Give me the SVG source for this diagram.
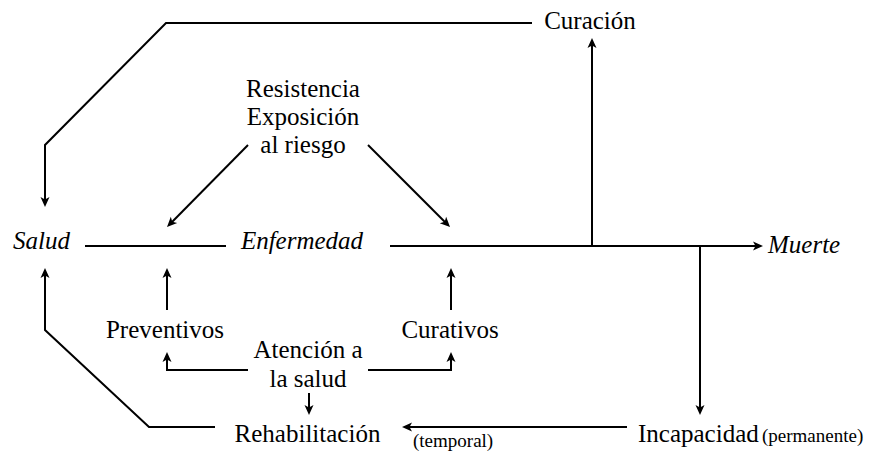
<svg xmlns="http://www.w3.org/2000/svg" width="869" height="453" viewBox="0 0 869 453">
<style>
.t{font-family:"Liberation Serif","Times New Roman","DejaVu Serif",serif;font-size:25px;fill:#000}
.i{font-style:italic}
.s{font-size:19px}
.c{text-anchor:middle}
.ln{fill:none;stroke:#000;stroke-width:2}
.a{marker-end:url(#ah)}
</style>
<defs>
<marker id="ah" markerUnits="userSpaceOnUse" viewBox="0 0 10 10" markerWidth="10" markerHeight="10" refX="6" refY="5" orient="auto">
<path d="M0,0.5 L10,5 L0,9.5 L2.5,5 Z" fill="#000"/>
</marker>
</defs>
<g id="connectors">
<path class="ln a" d="M532,23 L166,23 L45,145 L45,203"/>
<path class="ln a" d="M248,145 L169.8,224.2"/>
<path class="ln a" d="M368,145 L447.2,224.2"/>
<path class="ln" d="M85,246 L226,246"/>
<path class="ln a" d="M390,246 L759,246"/>
<path class="ln a" d="M592,246 L592,42"/>
<path class="ln a" d="M700,246 L700,411"/>
<path class="ln a" d="M627,427 L406,427"/>
<path class="ln a" d="M215,427 L149,427 L45,330 L45,272"/>
<path class="ln a" d="M167,310 L167,272"/>
<path class="ln a" d="M451,310 L451,272"/>
<path class="ln a" d="M248,370 L167,370 L167,356"/>
<path class="ln a" d="M368,370 L451,370 L451,356"/>
<path class="ln a" d="M309,393 L309,411"/>
</g>
<g id="curacion"><text class="t c" x="590" y="29">Curación</text></g>
<g id="resistencia">
<text class="t c" x="303" y="97">Resistencia</text>
<text class="t c" x="303" y="125">Exposición</text>
<text class="t c" x="303" y="153">al riesgo</text>
</g>
<g id="salud"><text class="t i" x="13" y="249">Salud</text></g>
<g id="enfermedad"><text class="t i c" x="302" y="249">Enfermedad</text></g>
<g id="muerte"><text class="t i" x="768" y="253">Muerte</text></g>
<g id="preventivos"><text class="t c" x="165" y="338">Preventivos</text></g>
<g id="curativos"><text class="t c" x="450" y="338">Curativos</text></g>
<g id="atencion">
<text class="t c" x="308" y="358">Atención a</text>
<text class="t c" x="308" y="387">la salud</text>
</g>
<g id="rehabilitacion"><text class="t c" x="307.5" y="442">Rehabilitación</text></g>
<g id="temporal"><text class="t s" x="413" y="447">(temporal)</text></g>
<g id="incapacidad">
<text class="t" x="638" y="442">Incapacidad</text>
<text class="t s" x="762" y="442">(permanente)</text>
</g>
</svg>
